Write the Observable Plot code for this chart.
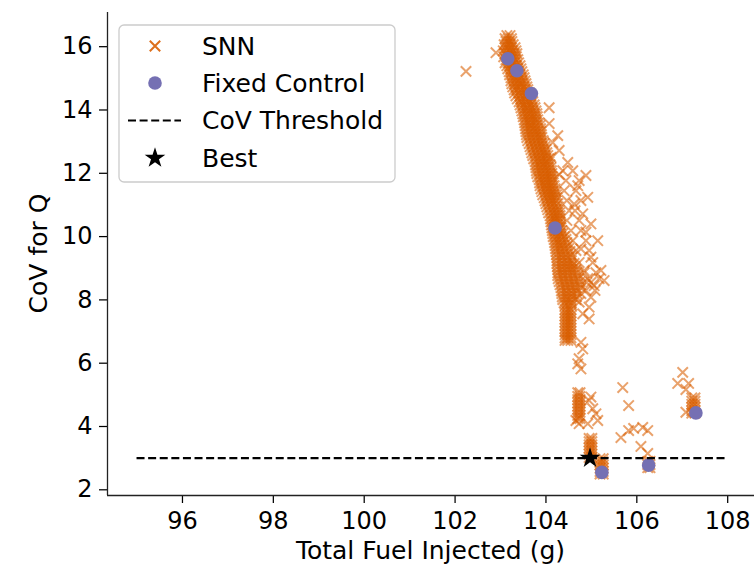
<!DOCTYPE html>
<html><head><meta charset="utf-8">
<script src="https://cdn.jsdelivr.net/npm/d3@7"></script>
<script src="https://cdn.jsdelivr.net/npm/@observablehq/plot@0.6"></script>
<style>
body{margin:0;background:#fff;}
#wrap{position:relative;width:754px;height:566px;font-family:"DejaVu Sans",sans-serif;}
#overlay{position:absolute;left:0;top:0;pointer-events:none;}
</style></head><body><div id="wrap"></div>
<script>
const xTicks = [96, 98, 100, 102, 104, 106, 108];
const yTicks = [2, 4, 6, 8, 10, 12, 14, 16];
const xLabel = "Total Fuel Injected (g)";
const yLabel = "CoV for Q";
const legendLabels = ["SNN", "Fixed Control", "CoV Threshold", "Best"];
const threshold = 3.0;
const thresholdRange = [95, 108];

// SNN: dense band, rows of [CoV, [fuel values]]
const bandRows = [
  [16.35, [103.14, 103.21]],
  [16.25, [103.10, 103.17, 103.24]],
  [16.16, [103.12, 103.19, 103.25]],
  [16.06, [103.08, 103.14, 103.21, 103.28]],
  [15.97, [103.10, 103.16, 103.23, 103.32]],
  [15.87, [103.06, 103.13, 103.20, 103.27, 103.34]],
  [15.78, [103.10, 103.16, 103.23, 103.30, 103.36]],
  [15.68, [103.07, 103.14, 103.21, 103.28, 103.35]],
  [15.59, [103.12, 103.19, 103.25, 103.32, 103.38]],
  [15.49, [103.10, 103.17, 103.24, 103.31, 103.40]],
  [15.40, [103.14, 103.21, 103.27, 103.34, 103.43]],
  [15.30, [103.16, 103.23, 103.30, 103.37, 103.45]],
  [15.21, [103.19, 103.25, 103.32, 103.38, 103.47]],
  [15.11, [103.20, 103.27, 103.34, 103.42, 103.50]],
  [15.02, [103.23, 103.30, 103.36, 103.45, 103.52]],
  [14.92, [103.23, 103.31, 103.39, 103.47, 103.54]],
  [14.83, [103.25, 103.32, 103.41, 103.47, 103.56]],
  [14.73, [103.27, 103.35, 103.43, 103.51, 103.58]],
  [14.64, [103.30, 103.36, 103.45, 103.54, 103.60]],
  [14.54, [103.31, 103.40, 103.48, 103.56, 103.64]],
  [14.45, [103.34, 103.43, 103.52, 103.58, 103.67]],
  [14.35, [103.37, 103.45, 103.53, 103.61, 103.69]],
  [14.26, [103.41, 103.47, 103.56, 103.63, 103.71]],
  [14.16, [103.43, 103.51, 103.58, 103.66, 103.74]],
  [14.07, [103.45, 103.54, 103.60, 103.69, 103.76]],
  [13.97, [103.47, 103.55, 103.63, 103.71, 103.78]],
  [13.88, [103.49, 103.58, 103.65, 103.74, 103.80]],
  [13.79, [103.50, 103.58, 103.66, 103.74, 103.81]],
  [13.69, [103.52, 103.60, 103.67, 103.76, 103.82]],
  [13.60, [103.53, 103.61, 103.68, 103.77, 103.85]],
  [13.51, [103.54, 103.63, 103.69, 103.78, 103.87]],
  [13.41, [103.55, 103.64, 103.72, 103.80, 103.88]],
  [13.32, [103.56, 103.65, 103.74, 103.82, 103.89]],
  [13.22, [103.57, 103.66, 103.75, 103.83, 103.90]],
  [13.13, [103.58, 103.67, 103.76, 103.85, 103.91]],
  [13.03, [103.60, 103.69, 103.78, 103.87, 103.94]],
  [12.94, [103.63, 103.71, 103.80, 103.89, 103.96]],
  [12.84, [103.65, 103.74, 103.82, 103.91, 103.98]],
  [12.75, [103.67, 103.76, 103.85, 103.93, 104.00]],
  [12.65, [103.69, 103.78, 103.87, 103.95, 104.02]],
  [12.56, [103.71, 103.80, 103.89, 103.98, 104.04]],
  [12.46, [103.73, 103.82, 103.90, 103.99, 104.06]],
  [12.37, [103.76, 103.85, 103.91, 104.00, 104.07]],
  [12.27, [103.77, 103.86, 103.94, 104.02, 104.09]],
  [12.18, [103.78, 103.87, 103.96, 104.04, 104.11]],
  [12.08, [103.79, 103.88, 103.97, 104.05, 104.12]],
  [11.99, [103.80, 103.89, 103.98, 104.07, 104.13]],
  [11.89, [103.82, 103.91, 103.99, 104.08, 104.14]],
  [11.80, [103.85, 103.93, 104.00, 104.09, 104.15]],
  [11.70, [103.86, 103.94, 104.01, 104.10, 104.16]],
  [11.61, [103.87, 103.96, 104.02, 104.11, 104.18]],
  [11.51, [103.89, 103.98, 104.05, 104.13, 104.20]],
  [11.42, [103.91, 104.00, 104.07, 104.15, 104.22]],
  [11.32, [103.93, 104.02, 104.09, 104.16, 104.23]],
  [11.23, [103.96, 104.04, 104.11, 104.18, 104.24]],
  [11.13, [103.98, 104.06, 104.14, 104.22]],
  [11.04, [104.00, 104.09, 104.18, 104.26]],
  [10.94, [104.02, 104.11, 104.20, 104.27]],
  [10.85, [104.04, 104.13, 104.22, 104.29]],
  [10.75, [104.06, 104.15, 104.23, 104.30]],
  [10.66, [104.09, 104.18, 104.24, 104.31]],
  [10.56, [104.10, 104.18, 104.24, 104.31]],
  [10.47, [104.11, 104.18, 104.24, 104.31]],
  [10.37, [104.12, 104.19, 104.25, 104.32]],
  [10.28, [104.13, 104.20, 104.26, 104.33]],
  [10.19, [104.14, 104.21, 104.28, 104.35]],
  [10.10, [104.15, 104.22, 104.31, 104.37]],
  [10.00, [104.16, 104.24, 104.33, 104.40]],
  [9.91, [104.18, 104.26, 104.35, 104.44]],
  [9.81, [104.19, 104.27, 104.36, 104.46]],
  [9.72, [104.20, 104.29, 104.37, 104.48]],
  [9.62, [104.21, 104.30, 104.40, 104.50]],
  [9.53, [104.22, 104.31, 104.42, 104.53]],
  [9.43, [104.23, 104.33, 104.44, 104.55]],
  [9.34, [104.24, 104.35, 104.46, 104.57]],
  [9.24, [104.24, 104.35, 104.46, 104.56]],
  [9.15, [104.24, 104.35, 104.46, 104.55, 104.62]],
  [9.05, [104.25, 104.35, 104.46, 104.55, 104.64]],
  [8.96, [104.26, 104.35, 104.46, 104.55, 104.66]],
  [8.86, [104.26, 104.36, 104.47, 104.57, 104.68]],
  [8.77, [104.26, 104.37, 104.48, 104.59, 104.70]],
  [8.67, [104.27, 104.38, 104.49, 104.60, 104.72]],
  [8.58, [104.29, 104.40, 104.51, 104.62, 104.75]],
  [8.48, [104.31, 104.42, 104.53, 104.64, 104.76]],
  [8.39, [104.33, 104.44, 104.55, 104.66, 104.77]],
  [8.29, [104.34, 104.45, 104.56, 104.67]],
  [8.20, [104.35, 104.46, 104.57, 104.68, 104.77]],
  [8.10, [104.36, 104.46, 104.56, 104.67]],
  [8.01, [104.37, 104.46, 104.55, 104.66]],
  [7.91, [104.40, 104.47, 104.56]],
  [7.82, [104.42, 104.48, 104.57]]
];

// SNN: vertical clusters, rows of [CoV, [fuel values]]
const columnRows = [
  [7.70, [104.42, 104.48, 104.55]], [7.60, [104.42, 104.48, 104.55]],
  [7.50, [104.42, 104.48, 104.55]], [7.40, [104.42, 104.48, 104.55]],
  [7.30, [104.42, 104.48, 104.55]], [7.20, [104.42, 104.48, 104.55]],
  [7.10, [104.42, 104.48, 104.55]], [7.00, [104.42, 104.48, 104.55]],
  [6.90, [104.42, 104.48, 104.55]], [6.80, [104.42, 104.48, 104.55]],
  [6.72, [104.42, 104.48, 104.55]],
  [5.07, [104.70, 104.75]], [4.95, [104.70, 104.75]], [4.85, [104.70, 104.75]],
  [4.75, [104.70, 104.75]], [4.65, [104.70, 104.75]], [4.55, [104.70, 104.75]],
  [4.45, [104.70, 104.75]], [4.35, [104.70, 104.75]], [4.25, [104.70, 104.75]],
  [3.62, [104.95, 105.01]], [3.52, [104.95, 105.01]], [3.42, [104.95, 105.01]],
  [3.32, [104.95, 105.01]], [3.22, [104.95, 105.01]], [3.12, [104.95, 105.01]],
  [3.02, [104.95, 105.01]],
  [2.98, [105.19, 105.26]], [2.88, [105.19, 105.26]], [2.78, [105.19, 105.26]],
  [2.68, [105.19, 105.26]], [2.58, [105.19, 105.26]], [2.50, [105.19, 105.26]],
  [2.90, [106.24, 106.29]], [2.80, [106.24, 106.29]], [2.70, [106.24, 106.29]],
  [4.90, [107.21, 107.28]], [4.80, [107.21, 107.28]], [4.70, [107.21, 107.28]],
  [4.60, [107.21, 107.28]], [4.50, [107.21, 107.28]], [4.42, [107.21, 107.28]]
];

// SNN: isolated points [fuel, CoV]
const scatterPts = [
  [102.24, 15.22], [102.90, 15.81], [104.07, 14.07], [104.07, 13.57], [104.26, 13.19],
  [104.15, 12.97], [104.29, 12.72], [104.48, 12.34], [104.29, 11.96], [104.11, 12.50],
  [104.88, 11.93], [104.70, 11.61], [104.92, 11.24], [104.62, 11.03], [104.81, 10.72],
  [104.99, 10.40], [104.88, 10.14], [105.14, 9.87], [104.77, 9.61], [104.99, 9.35],
  [105.21, 8.93], [105.17, 8.67], [105.06, 8.45], [104.84, 8.93], [104.92, 8.67],
  [105.28, 8.61], [104.99, 8.08],
  [104.37, 12.08], [104.59, 12.08], [104.44, 11.77], [104.73, 11.77], [104.40, 11.45],
  [104.66, 11.45], [104.46, 11.14], [104.77, 11.14], [104.51, 10.82], [104.64, 10.82],
  [104.46, 10.51], [104.73, 10.51], [104.55, 10.19], [104.77, 10.19], [104.59, 9.87],
  [104.88, 9.87], [104.66, 9.56], [104.95, 9.56], [104.73, 9.18], [105.03, 9.18],
  [104.84, 8.86], [105.10, 8.86], [104.90, 8.55], [104.99, 8.55], [104.88, 8.30], [105.08, 8.30],
  [104.73, 7.93], [104.95, 7.77], [104.95, 7.40], [104.81, 7.56], [104.77, 6.66],
  [104.81, 6.45], [104.73, 6.14], [104.77, 5.82], [104.70, 5.98],
  [104.99, 4.93], [105.03, 4.56], [105.14, 4.19], [104.92, 4.09], [104.95, 4.82],
  [105.10, 4.40], [104.66, 4.19], [104.73, 4.09],
  [105.69, 5.23], [105.82, 4.66], [105.65, 3.65], [105.82, 3.87], [105.93, 3.94],
  [106.13, 3.97], [106.24, 3.87], [106.09, 3.37], [106.24, 3.15], [107.01, 5.71],
  [106.90, 5.36], [107.14, 5.36], [107.08, 5.17], [107.08, 4.45]
];

const fixedFuel = [103.16, 103.36, 103.68, 104.20, 105.23, 106.26, 107.30];
const fixedCoV  = [15.62, 15.24, 14.52, 10.27, 2.55, 2.78, 4.43];
const bestFuel = [104.97];
const bestCoV = [3.0];

const orange = "#d95f02", purple = "#7570b3";

const snn = [...bandRows, ...columnRows]
  .flatMap(([y, xs]) => xs.map(x => ({x, y})))
  .concat(scatterPts.map(([x, y]) => ({x, y})));
const fixed = fixedFuel.map((x, i) => ({x, y: fixedCoV[i]}));
const best = bestFuel.map((x, i) => ({x, y: bestCoV[i]}));
const thrLine = [{x1: thresholdRange[0], x2: thresholdRange[1], y: threshold}];

const xDomain = [94.35, 108.59];
const yDomain = [1.82, 17.08];
const W = 754, H = 566, mL = 107, mR = 0, mT = 12, mB = 71;

const chart = Plot.plot({
  width: W, height: H,
  marginLeft: mL, marginRight: mR, marginTop: mT, marginBottom: mB,
  style: {fontFamily: "DejaVu Sans", fontSize: "24px", color: "#000", background: "white", overflow: "visible"},
  x: {domain: xDomain},
  y: {domain: yDomain},
  marks: [
    Plot.dot(snn, {x: "x", y: "y", symbol: "times", r: 4.8, stroke: orange, strokeOpacity: 0.58, strokeWidth: 2}),
    Plot.dot(fixed, {x: "x", y: "y", r: 6.8, fill: purple, stroke: "none"}),
    Plot.ruleY(thrLine, {x1: "x1", x2: "x2", y: "y", stroke: "#000", strokeWidth: 2.2, strokeDasharray: "8,3.6"}),
    Plot.dot(best, {x: "x", y: "y", symbol: "star", r: 6.5, fill: "#000", stroke: "none"}),
    Plot.axisX({ticks: xTicks, tickSize: 8, tickPadding: 8, label: null, fontSize: 24, strokeWidth: 1.25}),
    Plot.axisY({ticks: yTicks, tickSize: 8, tickPadding: 7, label: null, fontSize: 24, strokeWidth: 1.25}),
    Plot.ruleX([xDomain[0]], {stroke: "#222", strokeWidth: 1.3}),
    Plot.ruleY([yDomain[0]], {stroke: "#222", strokeWidth: 1.3})
  ]
});

const wrap = document.getElementById("wrap");
wrap.appendChild(chart);

// Overlay: axis titles and legend
const svg = d3.select(wrap).append("svg").attr("id", "overlay").attr("width", W).attr("height", H)
  .style("font-family", "DejaVu Sans").style("font-size", "25px");
svg.append("text").attr("x", (mL + W - mR) / 2).attr("y", 559).attr("text-anchor", "middle")
  .attr("fill", "#000").text(xLabel);
svg.append("text").attr("transform", `translate(47,${(mT + H - mB) / 2}) rotate(-90)`).attr("text-anchor", "middle")
  .attr("fill", "#000").text(yLabel);

svg.append("rect").attr("x", 119).attr("y", 25).attr("width", 276).attr("height", 157)
  .attr("rx", 5).attr("fill", "rgba(255,255,255,0.8)").attr("stroke", "#cccccc").attr("stroke-width", 1.3);
const rowsY = [46, 83, 120.5, 158];
svg.append("path").attr("transform", `translate(155,${rowsY[0]})`)
  .attr("d", d3.symbol(d3.symbolTimes, Math.PI * 4.8 * 4.8)()).attr("stroke", orange).attr("stroke-opacity", 0.9).attr("stroke-width", 2).attr("fill", "none");
svg.append("circle").attr("cx", 155).attr("cy", rowsY[1]).attr("r", 6.8).attr("fill", purple);
svg.append("line").attr("x1", 128).attr("x2", 181).attr("y1", rowsY[2]).attr("y2", rowsY[2])
  .attr("stroke", "#000").attr("stroke-width", 2.2).attr("stroke-dasharray", "8,3.6");
svg.append("path").attr("transform", `translate(155,${rowsY[3]})`)
  .attr("d", d3.symbol(d3.symbolStar, Math.PI * 6.5 * 6.5)()).attr("fill", "#000");
legendLabels.forEach((t, i) => {
  svg.append("text").attr("x", 202).attr("y", rowsY[i]).attr("dy", "0.35em").attr("fill", "#000").text(t);
});
</script></body></html>
